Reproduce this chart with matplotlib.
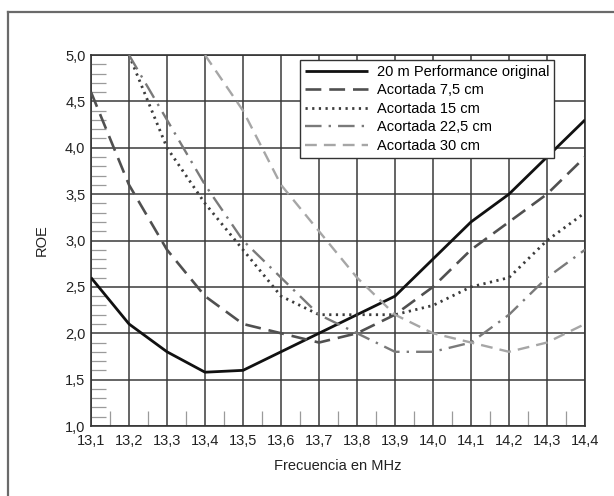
"""ROE vs frecuencia para la antena de 20 m acortada."""
import matplotlib
matplotlib.use("Agg")
import matplotlib.pyplot as plt
from matplotlib.lines import Line2D
from matplotlib.ticker import FuncFormatter, MultipleLocator
import numpy as np

plt.rcParams["font.family"] = ["Liberation Sans", "DejaVu Sans"]

freq = [13.1, 13.2, 13.3, 13.4, 13.5, 13.6, 13.7,
        13.8, 13.9, 14.0, 14.1, 14.2, 14.3, 14.4]

roe_original = [2.6, 2.1, 1.8, 1.58, 1.6, 1.8, 2.0,
                2.2, 2.4, 2.8, 3.2, 3.5, 3.9, 4.3]
roe_75 = [4.6, 3.6, 2.9, 2.4, 2.1, 2.0, 1.9,
          2.0, 2.2, 2.5, 2.9, 3.2, 3.5, 3.9]
roe_15 = [None, 5.0, 4.0, 3.4, 2.9, 2.4, 2.2,
          2.2, 2.2, 2.3, 2.5, 2.6, 3.0, 3.3]
roe_225 = [None, 5.0, 4.3, 3.6, 3.0, 2.6, 2.2,
           2.0, 1.8, 1.8, 1.9, 2.2, 2.6, 2.9]
roe_30 = [None, None, None, 5.0, 4.4, 3.6, 3.1,
          2.6, 2.2, 2.0, 1.9, 1.8, 1.9, 2.1]

labels = ["20 m Performance original", "Acortada 7,5 cm", "Acortada 15 cm",
          "Acortada 22,5 cm", "Acortada 30 cm"]

styles = [
    dict(color="#111111", lw=2.0, ls="-"),
    dict(color="#505050", lw=1.9, ls=(0, (6, 3))),
    dict(color="#3c3c3c", lw=2.0, ls=(0, (0.8, 1.6))),
    dict(color="#7a7a7a", lw=1.7, ls=(0, (7, 3, 1, 3))),
    dict(color="#a6a6a6", lw=1.7, ls=(0, (5, 3))),
]

fig = plt.figure(figsize=(6.14, 4.96), dpi=100)
ax = fig.add_axes([91 / 614, 1 - 426 / 496, 494 / 614, 371 / 496])

# outer frame (left and top only, the picture is cropped)
fig.add_artist(Line2D([8 / 614, 8 / 614], [0, 1 - 12 / 496],
                      color="#6a6a6a", lw=1.6, transform=fig.transFigure))
fig.add_artist(Line2D([8 / 614, 1], [1 - 12 / 496, 1 - 12 / 496],
                      color="#6a6a6a", lw=1.6, transform=fig.transFigure))

series = [roe_original, roe_75, roe_15, roe_225, roe_30]
for vals, lab, st in zip(series, labels, styles):
    x = [f for f, v in zip(freq, vals) if v is not None]
    y = [v for v in vals if v is not None]
    ax.plot(x, y, label=lab, solid_capstyle="butt", zorder=3, **st)

ax.set_xlim(13.1, 14.4)
ax.set_ylim(1.0, 5.0)
ax.xaxis.set_major_locator(MultipleLocator(0.1))
ax.yaxis.set_major_locator(MultipleLocator(0.5))
ax.xaxis.set_minor_locator(MultipleLocator(0.05))
ax.yaxis.set_minor_locator(MultipleLocator(0.1))
comma = FuncFormatter(lambda v, _: f"{v:.1f}".replace(".", ","))
ax.xaxis.set_major_formatter(comma)
ax.yaxis.set_major_formatter(comma)

ax.grid(which="major", color="#3a3a3a", lw=1.1)
ax.tick_params(which="major", length=0, labelsize=10.5, colors="#222222", pad=4)
ax.tick_params(axis="x", which="major", pad=6)
ax.tick_params(which="minor", direction="in", length=11, width=0.9,
               color="#9a9a9a")
ax.tick_params(axis="x", which="minor", top=False)
ax.tick_params(axis="y", which="minor", right=False)
for s in ax.spines.values():
    s.set_color("#333333")
    s.set_linewidth(1.2)

ax.set_xlabel("Frecuencia en MHz", fontsize=10.5, color="#222222", labelpad=8)
ax.set_ylabel("ROE", fontsize=10.5, color="#222222", labelpad=12)

leg = ax.legend(loc="upper left", bbox_to_anchor=(209 / 494, 366 / 371),
                fontsize=10.5, frameon=True, fancybox=False,
                handlelength=4.3, handletextpad=0.6, labelspacing=0.3,
                borderpad=0.35, borderaxespad=0.0)
leg.get_frame().set_edgecolor("#333333")
leg.get_frame().set_linewidth(1.0)
leg.get_frame().set_alpha(1.0)
leg.set_zorder(5)

fig.savefig("out.png", dpi=100)
